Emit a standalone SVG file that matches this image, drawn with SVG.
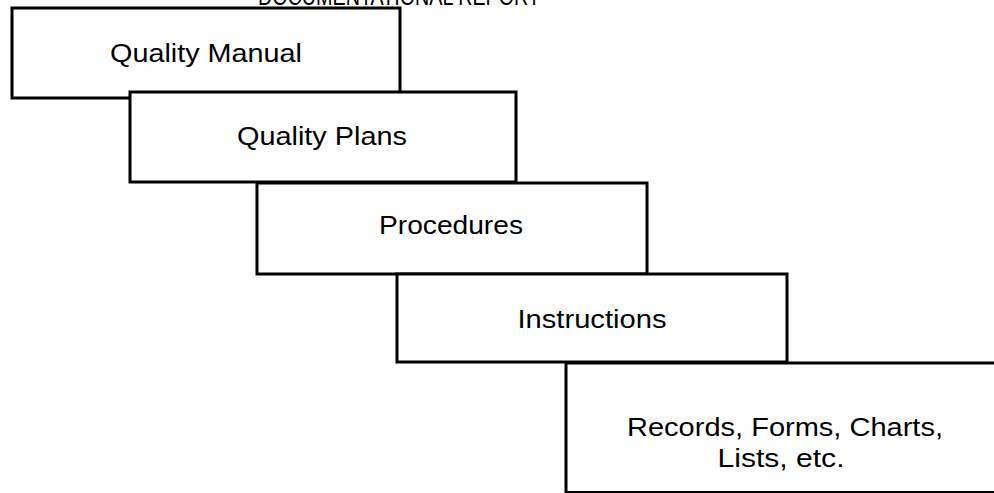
<svg xmlns="http://www.w3.org/2000/svg" width="994" height="493" viewBox="0 0 994 493">
<style>
.box{fill:#fff;stroke:#000;stroke-width:3}
.lbl{font-family:"Liberation Sans",Arial,sans-serif;font-size:25px;fill:#000;text-anchor:middle}
</style>
<rect x="0" y="0" width="994" height="493" fill="#fff"/>
<text class="lbl" x="399" y="5" textLength="282" lengthAdjust="spacingAndGlyphs">DOCUMENTATIONAL REPORT</text>
<g id="quality-manual">
<rect class="box" x="12" y="8" width="388" height="90"/>
<text class="lbl" x="206" y="62" textLength="192" lengthAdjust="spacingAndGlyphs">Quality Manual</text>
</g>
<g id="quality-plans">
<rect class="box" x="130" y="92" width="386" height="90"/>
<text class="lbl" x="322" y="145" textLength="170" lengthAdjust="spacingAndGlyphs">Quality Plans</text>
</g>
<g id="procedures">
<rect class="box" x="257" y="183" width="390" height="91"/>
<text class="lbl" x="451" y="234" textLength="144" lengthAdjust="spacingAndGlyphs">Procedures</text>
</g>
<g id="instructions">
<rect class="box" x="397" y="274" width="390" height="88"/>
<text class="lbl" x="592" y="328" textLength="149" lengthAdjust="spacingAndGlyphs">Instructions</text>
</g>
<g id="records">
<rect class="box" x="566" y="363" width="432" height="129.5"/>
<text class="lbl" x="785" y="436" textLength="316" lengthAdjust="spacingAndGlyphs">Records, Forms, Charts,</text>
<text class="lbl" x="781" y="467" textLength="127" lengthAdjust="spacingAndGlyphs">Lists, etc.</text>
</g>
<g id="connectors"></g>
</svg>
